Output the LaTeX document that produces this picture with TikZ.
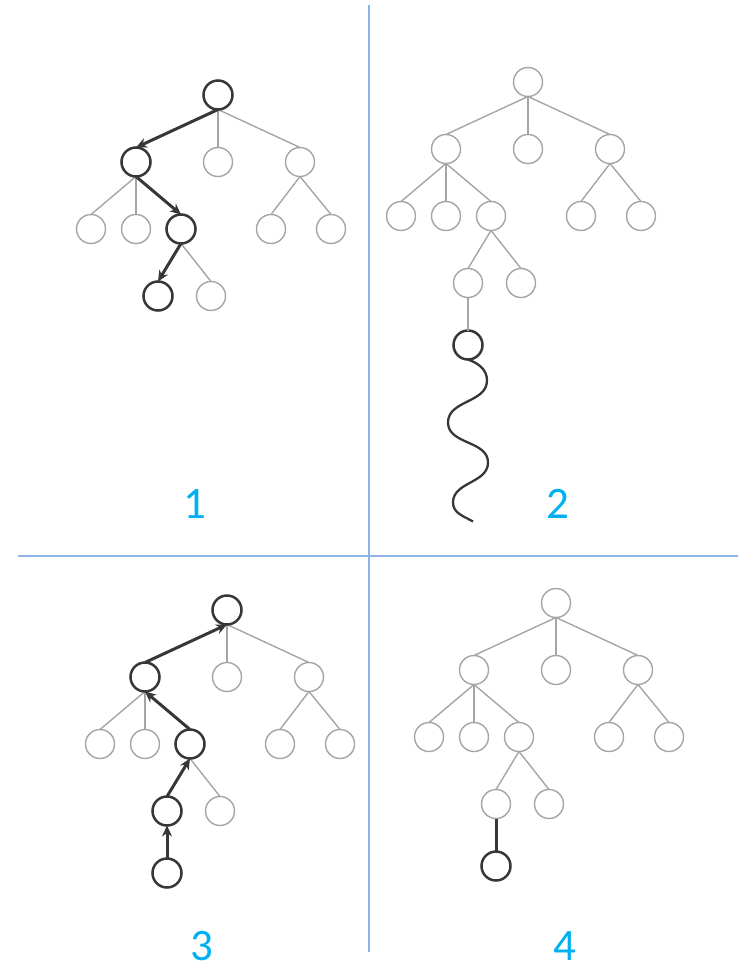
\documentclass[tikz,border=0pt]{standalone}
\usepackage{fontspec}
\setmainfont{Carlito}
\usetikzlibrary{positioning, arrows.meta}
\definecolor{treegray}{RGB}{165,165,165}
\definecolor{walkdark}{RGB}{55,55,55}
\definecolor{numblue}{RGB}{0,176,240}
\definecolor{ruleblue}{RGB}{141,180,226}

% one game tree, root at (#2,#3), node names start with #1
\newcommand{\gametree}[3]{%
  \begin{scope}[shift={(#2,#3)}]
    \node[vtx] (#1r) at (0,0) {};
    \node[vtx] (#1a) at (-82,-67) {};
    \node[vtx] (#1b) at (0,-67) {};
    \node[vtx] (#1c) at (82,-67) {};
    \node[vtx] (#1aa) at (-127,-134) {};
    \node[vtx] (#1ab) at (-82,-134) {};
    \node[vtx] (#1ac) at (-37,-134) {};
    \node[vtx] (#1ca) at (53,-134) {};
    \node[vtx] (#1cb) at (113,-134) {};
    \node[vtx] (#1aca) at (-60,-201) {};
    \node[vtx] (#1acb) at (-7,-201) {};
  \end{scope}
  \foreach \pa/\ch in {r/a,r/b,r/c,a/aa,a/ab,a/ac,c/ca,c/cb,ac/aca,ac/acb}
    \draw[twig] (#1\pa.south) -- (#1\ch.north);
}

\begin{document}
\begin{tikzpicture}[x=1pt, y=1pt, node distance=33pt,
    vtx/.style={circle, draw=treegray, line width=1.4pt, fill=white,
      minimum size=29pt, inner sep=0pt, outer sep=0pt},
    hot/.style={vtx, draw=walkdark, line width=2.5pt},
    twig/.style={draw=treegray, line width=1.4pt},
    walkline/.style={draw=walkdark, line width=3pt},
    walk/.style={walkline, -{Stealth[length=11pt, width=10pt]}},
    num/.style={text=numblue, inner sep=0pt,
      font=\fontsize{45}{54}\selectfont},
    rule/.style={draw=ruleblue, line width=1.3pt}]
  \useasboundingbox (0,0) rectangle (748,-970);

  % dividers
  \draw[rule] (369,-5) -- (369,-952);
  \draw[rule] (18,-556) -- (738,-556);

  % 1: walk down
  \gametree{p1}{218}{-95}
  \foreach \n in {r,a,ac,aca}
    \node[hot] (p1h\n) at (p1\n) {};
  \draw[walk] (p1hr.south) -- (p1ha.north);
  \draw[walk] (p1ha.south) -- (p1hac.north);
  \draw[walk] (p1hac.south) -- (p1haca.north);

  % 2: playout
  \gametree{p2}{528}{-82}
  \node[hot, below=of p2aca] (p2e) {};
  \draw[twig] (p2aca.south) -- (p2e.north);
  \draw[walkline, line width=2.3pt] (p2e.south)
    to[out=-20, in=90] ++(19,-21)
    to[out=-90, in=90] ++(-39,-42)
    to[out=-90, in=90] ++(40,-40)
    to[out=-90, in=90] ++(-35,-40)
    to[out=-90, in=150] ++(20,-19);

  % 3: walk back up
  \gametree{p3}{227}{-610}
  \foreach \n in {r,a,ac,aca}
    \node[hot] (p3h\n) at (p3\n) {};
  \node[hot, below=of p3aca] (p3e) {};
  \draw[walk] (p3e.north) -- (p3haca.south);
  \draw[walk] (p3haca.north) -- (p3hac.south);
  \draw[walk] (p3hac.north) -- (p3ha.south);
  \draw[walk] (p3ha.north) -- (p3hr.south);

  % 4: new leaf kept
  \gametree{p4}{556}{-603}
  \node[hot, below=of p4aca] (p4e) {};
  \draw[walkline] (p4aca.south) -- (p4e.north);

  % panel numbers
  \node[num] (n1) at (195,-504) {1};
  \node[num] (n2) at (558,-504) {2};
  \node[num] (n3) at (202,-946) {3};
  \node[num] (n4) at (565,-946) {4};
\end{tikzpicture}
\end{document}
